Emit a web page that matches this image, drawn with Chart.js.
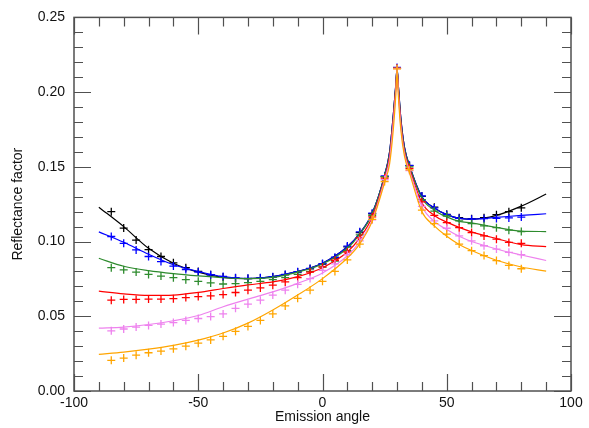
<!DOCTYPE html>
<html>
<head>
<meta charset="utf-8">
<script src="https://cdn.jsdelivr.net/npm/chart.js@4.4.1/dist/chart.umd.min.js"></script>
<style>
  html, body { margin: 0; padding: 0; background: #fff; }
</style>
</head>
<body>
<canvas id="chart" width="589" height="428"></canvas>
<script>
// model curves (solid lines), sampled along the emission angle
const lineAngles = [-90, -80, -70, -60, -50, -40, -30, -20, -10, 0, 10, 15, 20, 25, 27, 28.5, 29.5, 30, 30.5, 31.5, 33, 35, 40, 45, 50, 55, 60, 70, 80, 90];
const lineBlack  = [0.123, 0.110, 0.0955, 0.0855, 0.0795, 0.0760, 0.0752, 0.0765, 0.0800, 0.0855, 0.0965, 0.1055, 0.1190, 0.1445, 0.160, 0.185, 0.205, 0.216, 0.205, 0.183, 0.163, 0.151, 0.130, 0.1225, 0.118, 0.1155, 0.1150, 0.1175, 0.1237, 0.1318];
const lineBlue   = [0.1065, 0.0995, 0.0915, 0.0845, 0.0800, 0.0765, 0.0752, 0.0765, 0.0800, 0.0855, 0.0965, 0.1055, 0.1190, 0.1445, 0.160, 0.185, 0.205, 0.216, 0.205, 0.183, 0.163, 0.151, 0.130, 0.1225, 0.118, 0.1155, 0.1150, 0.1162, 0.1175, 0.1186];
const lineGreen  = [0.0888, 0.0835, 0.0805, 0.0785, 0.0770, 0.0758, 0.0752, 0.0760, 0.0795, 0.0850, 0.0955, 0.1050, 0.1185, 0.1440, 0.159, 0.184, 0.204, 0.216, 0.204, 0.182, 0.162, 0.1505, 0.129, 0.1210, 0.1165, 0.1135, 0.1125, 0.1095, 0.1070, 0.1067];
const lineRed    = [0.0668, 0.0650, 0.0640, 0.0642, 0.0660, 0.0686, 0.0710, 0.0730, 0.0765, 0.0825, 0.0930, 0.1025, 0.1165, 0.1425, 0.157, 0.182, 0.203, 0.2155, 0.203, 0.180, 0.160, 0.149, 0.126, 0.1175, 0.1130, 0.1095, 0.1065, 0.1020, 0.0980, 0.0966];
const lineViolet = [0.0421, 0.0428, 0.0445, 0.0470, 0.0505, 0.0564, 0.0615, 0.0663, 0.0720, 0.0790, 0.0905, 0.1000, 0.1145, 0.1415, 0.155, 0.180, 0.201, 0.215, 0.201, 0.178, 0.159, 0.1475, 0.1235, 0.1135, 0.1080, 0.1035, 0.1000, 0.0950, 0.0910, 0.0873];
const lineOrange = [0.0245, 0.0260, 0.0280, 0.0305, 0.0340, 0.0388, 0.0454, 0.0542, 0.0642, 0.0752, 0.0890, 0.0985, 0.1135, 0.1395, 0.152, 0.175, 0.198, 0.214, 0.198, 0.175, 0.157, 0.146, 0.120, 0.1105, 0.1035, 0.0980, 0.0940, 0.0875, 0.0830, 0.0802];

// measurements (crosses)
const markAngles = [-85, -80, -75, -70, -65, -60, -55, -50, -45, -40, -35, -30, -25, -20, -15, -10, -5, 0, 5, 10, 15, 20, 25, 30, 35, 40, 45, 50, 55, 60, 65, 70, 75, 80];
const markBlack  = [0.120, 0.109, 0.101, 0.0946, 0.0900, 0.0858, 0.0825, 0.0800, 0.0778, 0.0763, 0.0755, 0.0752, 0.0756, 0.0763, 0.0778, 0.0796, 0.0818, 0.0850, 0.0890, 0.0965, 0.1060, 0.1186, 0.1435, 0.2160, 0.1508, 0.1303, 0.1230, 0.1182, 0.1160, 0.1153, 0.1160, 0.1180, 0.1200, 0.1226];
const markBlue   = [0.1034, 0.0988, 0.0944, 0.0900, 0.0866, 0.0836, 0.0813, 0.0796, 0.0778, 0.0767, 0.0757, 0.0754, 0.0757, 0.0765, 0.0780, 0.0798, 0.0820, 0.0853, 0.0895, 0.0970, 0.1065, 0.1190, 0.1440, 0.2165, 0.1510, 0.1305, 0.1225, 0.1180, 0.1155, 0.1150, 0.1153, 0.1155, 0.1158, 0.1164];
const markGreen  = [0.0825, 0.0811, 0.0796, 0.0780, 0.0769, 0.0758, 0.0745, 0.0734, 0.0723, 0.0716, 0.0719, 0.0725, 0.0734, 0.0745, 0.0758, 0.0780, 0.0800, 0.0829, 0.0870, 0.0940, 0.1045, 0.1175, 0.1435, 0.2160, 0.1500, 0.1280, 0.1204, 0.1171, 0.1138, 0.1120, 0.1105, 0.1093, 0.1076, 0.1067];
const markRed    = [0.0608, 0.0613, 0.0613, 0.0615, 0.0615, 0.0618, 0.0625, 0.0632, 0.0637, 0.0645, 0.0659, 0.0675, 0.0690, 0.0708, 0.0730, 0.0758, 0.0796, 0.0830, 0.0875, 0.0930, 0.1025, 0.1165, 0.1425, 0.2160, 0.1490, 0.1265, 0.1175, 0.1127, 0.1093, 0.1060, 0.1038, 0.1016, 0.0994, 0.0988];
const markViolet = [0.0403, 0.0415, 0.0428, 0.0439, 0.0448, 0.0458, 0.0472, 0.0485, 0.0498, 0.0516, 0.0553, 0.0582, 0.0608, 0.0642, 0.0675, 0.0714, 0.0752, 0.0807, 0.0851, 0.0911, 0.1005, 0.1145, 0.1415, 0.2158, 0.1475, 0.1235, 0.1138, 0.1089, 0.1038, 0.1005, 0.0972, 0.0950, 0.0928, 0.0913];
const markOrange = [0.0205, 0.0220, 0.0240, 0.0256, 0.0267, 0.0282, 0.0300, 0.0320, 0.0342, 0.0366, 0.0399, 0.0432, 0.0472, 0.0516, 0.0569, 0.0620, 0.0675, 0.0734, 0.0800, 0.0877, 0.0983, 0.1149, 0.1402, 0.2155, 0.1480, 0.1210, 0.1120, 0.1050, 0.0983, 0.0939, 0.0906, 0.0873, 0.0840, 0.0818];

const seriesColors = ['#000000', '#0000ff', '#2e8b2e', '#ff0000', '#ee82ee', '#ffa500'];
const lineSeries = [lineBlack, lineBlue, lineGreen, lineRed, lineViolet, lineOrange];
const markSeries = [markBlack, markBlue, markGreen, markRed, markViolet, markOrange];

const xTicks = [-100, -50, 0, 50, 100];
const yTicks = [0, 0.05, 0.10, 0.15, 0.20, 0.25];

const fontFamily = '"Liberation Sans", Arial, Helvetica, sans-serif';

function toPoints(xs, ys) {
    return xs.map((x, i) => ({ x: x, y: ys[i] }));
}

// Chart.js paints the first dataset last, so push in reverse to get black at the bottom
const datasets = [];
for (let i = lineSeries.length - 1; i >= 0; i--) {
    datasets.push({
        data: toPoints(markAngles, markSeries[i]),
        showLine: false,
        pointStyle: 'cross',
        pointRadius: 4,
        pointBorderWidth: 1.3,
        borderColor: seriesColors[i],
        backgroundColor: seriesColors[i]
    });
    datasets.push({
        data: toPoints(lineAngles, lineSeries[i]),
        showLine: true,
        borderColor: seriesColors[i],
        borderWidth: 1.2,
        pointRadius: 0,
        cubicInterpolationMode: 'monotone',
        fill: false
    });
}

// frame with inward major/minor ticks on all four sides
const frameTicks = {
    id: 'frameTicks',
    afterDatasetsDraw(chart) {
        const ctx = chart.ctx;
        const a = chart.chartArea;
        const xs = chart.scales.x;
        const ys = chart.scales.y;
        ctx.save();
        ctx.strokeStyle = '#505050';
        ctx.lineWidth = 1.5;
        ctx.strokeRect(a.left, a.top, a.right - a.left, a.bottom - a.top);
        ctx.lineWidth = 1.2;
        ctx.beginPath();
        for (let v = -100; v <= 100; v += 10) {
            const px = Math.round(xs.getPixelForValue(v)) + 0.5;
            const len = v % 50 === 0 ? 17 : 9;
            ctx.moveTo(px, a.bottom);
            ctx.lineTo(px, a.bottom - len);
            ctx.moveTo(px, a.top);
            ctx.lineTo(px, a.top + len);
        }
        for (let i = 0; i <= 25; i++) {
            const py = Math.round(ys.getPixelForValue(i / 100)) + 0.5;
            const len = i % 5 === 0 ? 17 : 9;
            ctx.moveTo(a.left, py);
            ctx.lineTo(a.left + len, py);
            ctx.moveTo(a.right, py);
            ctx.lineTo(a.right - len, py);
        }
        ctx.stroke();
        ctx.restore();
    }
};

new Chart(document.getElementById('chart').getContext('2d'), {
    type: 'scatter',
    data: { datasets: datasets },
    options: {
        responsive: false,
        devicePixelRatio: 1,
        animation: false,
        layout: { padding: { left: 0, right: 18, top: 14, bottom: 0 } },
        plugins: {
            legend: { display: false },
            tooltip: { enabled: false }
        },
        scales: {
            x: {
                type: 'linear',
                min: -100,
                max: 100,
                afterFit: (scale) => { scale.height = 37; },
                afterBuildTicks: (scale) => { scale.ticks = xTicks.map(v => ({ value: v })); },
                grid: { display: false, drawTicks: false },
                border: { display: false },
                ticks: {
                    color: '#111',
                    padding: 4,
                    maxRotation: 0,
                    autoSkip: false,
                    font: { family: fontFamily, size: 14 }
                },
                title: {
                    display: true,
                    text: 'Emission angle',
                    color: '#111',
                    padding: { bottom: 2 },
                    font: { family: fontFamily, size: 14 }
                }
            },
            y: {
                type: 'linear',
                min: 0,
                max: 0.25,
                afterFit: (scale) => { scale.width = 74; },
                afterBuildTicks: (scale) => { scale.ticks = yTicks.map(v => ({ value: v })); },
                grid: { display: false, drawTicks: false },
                border: { display: false },
                ticks: {
                    color: '#111',
                    padding: 9,
                    autoSkip: false,
                    font: { family: fontFamily, size: 14 },
                    callback: (v) => Number(v).toFixed(2)
                },
                title: {
                    display: true,
                    text: 'Reflectance factor',
                    color: '#111',
                    padding: { top: 10 },
                    font: { family: fontFamily, size: 14 }
                }
            }
        }
    },
    plugins: [frameTicks]
});
</script>
</body>
</html>
